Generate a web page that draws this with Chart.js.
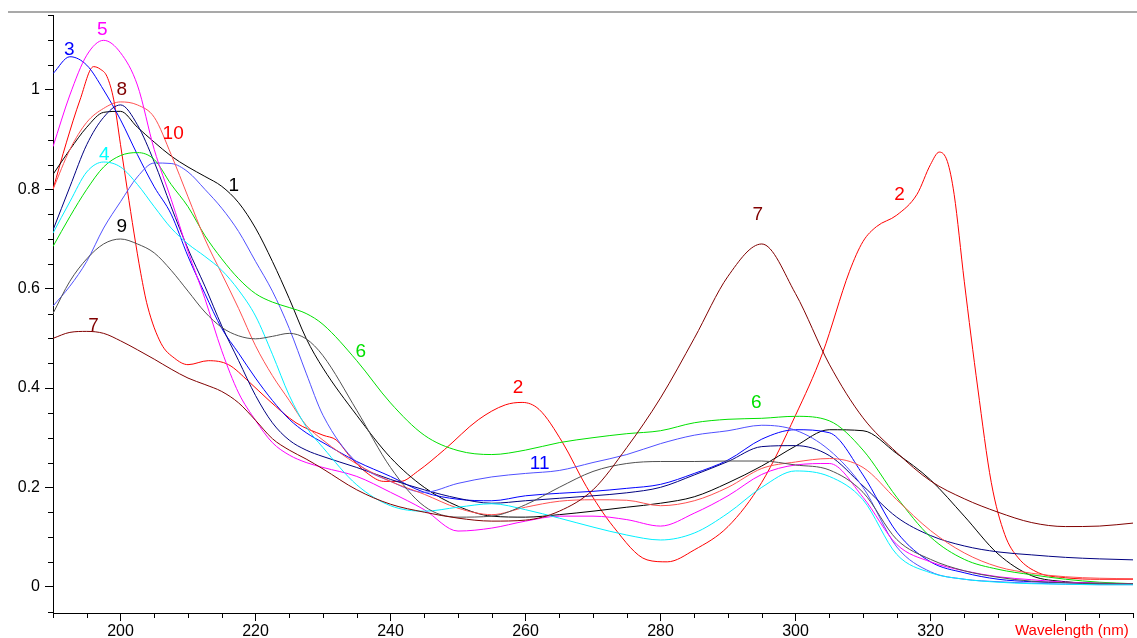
<!DOCTYPE html>
<html><head><meta charset="utf-8">
<script src="https://cdn.jsdelivr.net/npm/chart.js@4.4.1/dist/chart.umd.min.js"></script>
<style>html,body{margin:0;padding:0;background:#fff;overflow:hidden}canvas{display:block}</style>
</head><body>
<canvas id="c" width="1137" height="638"></canvas>
<script>
// Shared wavelength grid (nm)
const wavelengths = [190,192.5,195,197.5,200,202.5,205,207.5,210,212.5,215,217.5,220,222.5,225,227.5,230,235,240,245,250,255,260,265,270,275,280,285,290,295,300,305,310,315,320,325,330,335,340,345,350];

const s1  = [0.83,0.88,0.925,0.955,0.957,0.925,0.895,0.867,0.845,0.826,0.806,0.773,0.722,0.655,0.58,0.50,0.44,0.345,0.26,0.20,0.162,0.142,0.14,0.145,0.152,0.16,0.168,0.181,0.209,0.243,0.283,0.316,0.314,0.268,0.215,0.142,0.066,0.022,0.01,0.007,0.006];
const s3  = [1.033,1.067,1.05,1.0,0.94,0.87,0.805,0.75,0.665,0.59,0.52,0.47,0.42,0.375,0.337,0.31,0.29,0.252,0.222,0.19,0.176,0.173,0.183,0.188,0.192,0.198,0.206,0.228,0.255,0.297,0.316,0.31,0.225,0.11,0.05,0.028,0.015,0.01,0.008,0.006,0.005];
const s4  = [0.712,0.775,0.835,0.855,0.845,0.81,0.765,0.722,0.69,0.665,0.637,0.597,0.545,0.468,0.385,0.322,0.28,0.205,0.163,0.152,0.16,0.167,0.155,0.138,0.12,0.104,0.094,0.108,0.148,0.20,0.233,0.222,0.175,0.065,0.028,0.015,0.009,0.006,0.005,0.004,0.004];
const s5  = [0.886,0.99,1.07,1.10,1.075,1.01,0.88,0.78,0.675,0.58,0.475,0.39,0.335,0.29,0.265,0.25,0.24,0.222,0.19,0.155,0.112,0.118,0.132,0.142,0.142,0.135,0.122,0.148,0.183,0.226,0.245,0.248,0.18,0.085,0.05,0.032,0.02,0.014,0.009,0.007,0.006];
const s6  = [0.685,0.745,0.80,0.845,0.868,0.874,0.86,0.81,0.765,0.707,0.66,0.62,0.59,0.573,0.562,0.55,0.528,0.455,0.37,0.305,0.274,0.266,0.275,0.29,0.30,0.308,0.314,0.33,0.337,0.339,0.343,0.334,0.275,0.18,0.10,0.055,0.035,0.024,0.015,0.009,0.006];
const s7  = [0.50,0.512,0.514,0.51,0.495,0.477,0.458,0.438,0.42,0.407,0.393,0.37,0.335,0.298,0.275,0.257,0.237,0.195,0.166,0.15,0.138,0.132,0.134,0.152,0.195,0.28,0.38,0.50,0.625,0.69,0.59,0.448,0.34,0.27,0.213,0.177,0.15,0.129,0.121,0.122,0.128];
const s8  = [0.718,0.805,0.89,0.945,0.97,0.93,0.855,0.765,0.68,0.605,0.525,0.455,0.385,0.33,0.295,0.275,0.262,0.24,0.216,0.195,0.178,0.168,0.173,0.178,0.183,0.189,0.20,0.225,0.252,0.282,0.284,0.264,0.203,0.14,0.103,0.082,0.07,0.064,0.059,0.056,0.054];
const s9  = [0.55,0.615,0.66,0.69,0.70,0.69,0.672,0.637,0.595,0.553,0.522,0.505,0.499,0.504,0.51,0.499,0.465,0.355,0.24,0.162,0.14,0.142,0.165,0.20,0.232,0.248,0.252,0.252,0.253,0.253,0.245,0.235,0.19,0.095,0.055,0.032,0.019,0.011,0.008,0.006,0.006];
const s10 = [0.80,0.88,0.935,0.963,0.976,0.97,0.945,0.87,0.785,0.70,0.63,0.56,0.485,0.425,0.375,0.325,0.295,0.247,0.212,0.186,0.158,0.145,0.16,0.172,0.175,0.174,0.163,0.173,0.20,0.238,0.251,0.258,0.24,0.175,0.113,0.068,0.04,0.027,0.02,0.017,0.016];
const s11 = [0.565,0.605,0.655,0.722,0.775,0.825,0.853,0.852,0.835,0.80,0.762,0.715,0.655,0.595,0.52,0.43,0.345,0.25,0.212,0.19,0.208,0.221,0.228,0.234,0.25,0.266,0.288,0.305,0.314,0.325,0.315,0.275,0.20,0.08,0.03,0.015,0.01,0.007,0.005,0.004,0.004];

// Curve 2 has sharp features: its own, finer wavelength grid
const wavelengths2 = [190,192,194,196,197,198,199,200,201,202,203,204,206,208,210,213,216,219,222,226,230,232,234,236.5,239,241.5,244,248,253,257,259.5,262,265.5,269,273,278,281,285,290,295,300,304,308,310,312,315,318,320,321.3,322.5,323.5,325,327,329,331,333,336,340,345,350];
const s2 = [0.80,0.895,0.98,1.047,1.042,1.027,0.98,0.89,0.80,0.712,0.631,0.565,0.49,0.46,0.447,0.455,0.447,0.413,0.375,0.33,0.305,0.295,0.262,0.229,0.212,0.212,0.232,0.276,0.336,0.366,0.371,0.357,0.29,0.202,0.121,0.054,0.05,0.074,0.121,0.21,0.345,0.47,0.635,0.695,0.725,0.748,0.79,0.85,0.875,0.856,0.79,0.615,0.40,0.21,0.105,0.058,0.028,0.018,0.015,0.015];

const xMajorTicks = [200,220,240,260,280,300,320,340];
const xMinorTicks = [190,195,205,210,215,225,230,235,245,250,255,265,270,275,285,290,295,305,310,315,325,330,335,345,350];
const yMajorTicks = [0,0.2,0.4,0.6,0.8,1];
const yMinorTicks = [-0.05,0.05,0.1,0.15,0.25,0.3,0.35,0.45,0.5,0.55,0.65,0.7,0.75,0.85,0.9,0.95,1.05,1.1,1.15];

const curveLabels = [
  {text:'5',  x:197.3, y:1.122, color:'#ff00ff'},
  {text:'3',  x:192.4, y:1.082, color:'#0000ff'},
  {text:'8',  x:200.2, y:1.001, color:'#800000'},
  {text:'10', x:207.8, y:0.911, color:'#ff0000'},
  {text:'1',  x:216.8, y:0.807, color:'#000000'},
  {text:'4',  x:197.6, y:0.869, color:'#00ffff'},
  {text:'9',  x:200.2, y:0.724, color:'#000000'},
  {text:'7',  x:196.0, y:0.526, color:'#800000'},
  {text:'6',  x:235.6, y:0.473, color:'#00e000'},
  {text:'2',  x:258.9, y:0.400, color:'#ff0000'},
  {text:'11', x:262.1, y:0.247, color:'#0000ff'},
  {text:'6',  x:294.2, y:0.370, color:'#00e000'},
  {text:'7',  x:294.4, y:0.749, color:'#800000'},
  {text:'2',  x:315.4, y:0.789, color:'#ff0000'}
];

const FONT = "'Liberation Sans', Arial, sans-serif";

function series(xs, ys) { return xs.map((x, i) => ({x: x, y: ys[i]})); }
function ds(label, xs, ys, color) {
  return {label: label, data: series(xs, ys), borderColor: color, backgroundColor: color,
          borderWidth: 1, pointRadius: 0, fill: false, cubicInterpolationMode: 'monotone'};
}

const datasets = [
  ds('7',  wavelengths, s7,  '#800000'),
  ds('9',  wavelengths, s9,  '#505050'),
  ds('4',  wavelengths, s4,  '#00f0ff'),
  ds('5',  wavelengths, s5,  '#ff00ff'),
  ds('10', wavelengths, s10, '#ff5050'),
  ds('6',  wavelengths, s6,  '#00e000'),
  ds('11', wavelengths, s11, '#5050ff'),
  ds('8',  wavelengths, s8,  '#000080'),
  ds('3',  wavelengths, s3,  '#0000ff'),
  ds('1',  wavelengths, s1,  '#000000'),
  ds('2',  wavelengths2, s2, '#ff0000')
];

const decor = {
  id: 'decor',
  afterDraw(chart) {
    const ctx = chart.ctx, xs = chart.scales.x, ys = chart.scales.y;
    ctx.save();
    // top gray frame line
    ctx.strokeStyle = '#8c8c8c'; ctx.lineWidth = 1.5;
    ctx.beginPath(); ctx.moveTo(8, 12); ctx.lineTo(1137, 12); ctx.stroke();
    // minor ticks
    ctx.strokeStyle = '#000'; ctx.lineWidth = 1;
    xMinorTicks.forEach(v => {
      const px = Math.round(xs.getPixelForValue(v)) + 0.5;
      ctx.beginPath(); ctx.moveTo(px, ys.bottom); ctx.lineTo(px, ys.bottom + 5); ctx.stroke();
    });
    yMinorTicks.forEach(v => {
      const py = Math.round(ys.getPixelForValue(v)) + 0.5;
      ctx.beginPath(); ctx.moveTo(xs.left, py); ctx.lineTo(xs.left - 5, py); ctx.stroke();
    });
    // curve labels
    ctx.font = '19px ' + FONT; ctx.textAlign = 'center'; ctx.textBaseline = 'middle';
    curveLabels.forEach(l => {
      ctx.fillStyle = l.color;
      ctx.fillText(l.text, xs.getPixelForValue(l.x), ys.getPixelForValue(l.y));
    });
    // axis title
    ctx.font = '15px ' + FONT; ctx.fillStyle = '#ff0000'; ctx.textAlign = 'left'; ctx.textBaseline = 'middle';
    ctx.fillText('Wavelength (nm)', 1015, 631);
    ctx.restore();
  }
};

new Chart(document.getElementById('c'), {
  type: 'line',
  data: {datasets: datasets},
  plugins: [decor],
  options: {
    responsive: false, animation: false,
    layout: {padding: {top: 15, right: 4, left: 0, bottom: 0}},
    plugins: {legend: {display: false}, tooltip: {enabled: false}},
    scales: {
      x: {
        type: 'linear', min: 190, max: 350,
        afterBuildTicks: s => { s.ticks = xMajorTicks.map(v => ({value: v})); },
        afterFit: s => { s.height = 25; },
        border: {display: true, color: '#000', width: 1},
        grid: {display: true, drawOnChartArea: false, drawTicks: true, tickLength: 8, color: '#000', tickColor: '#000'},
        ticks: {autoSkip: false, maxRotation: 0, padding: 1, color: '#000',
                font: {family: FONT, size: 16},
                callback: v => (v === 340 ? '' : String(v))}
      },
      y: {
        type: 'linear', min: -0.053, max: 1.151,
        afterBuildTicks: s => { s.ticks = yMajorTicks.map(v => ({value: v})); },
        afterFit: s => { s.width = 53; },
        border: {display: true, color: '#000', width: 1},
        grid: {display: true, drawOnChartArea: false, drawTicks: true, tickLength: 8, color: '#000', tickColor: '#000'},
        ticks: {autoSkip: false, padding: 5, color: '#000',
                font: {family: FONT, size: 16},
                callback: v => (v === 0 ? '0' : (v === 1 ? '1' : v.toFixed(1)))}
      }
    }
  }
});
</script>
</body></html>
